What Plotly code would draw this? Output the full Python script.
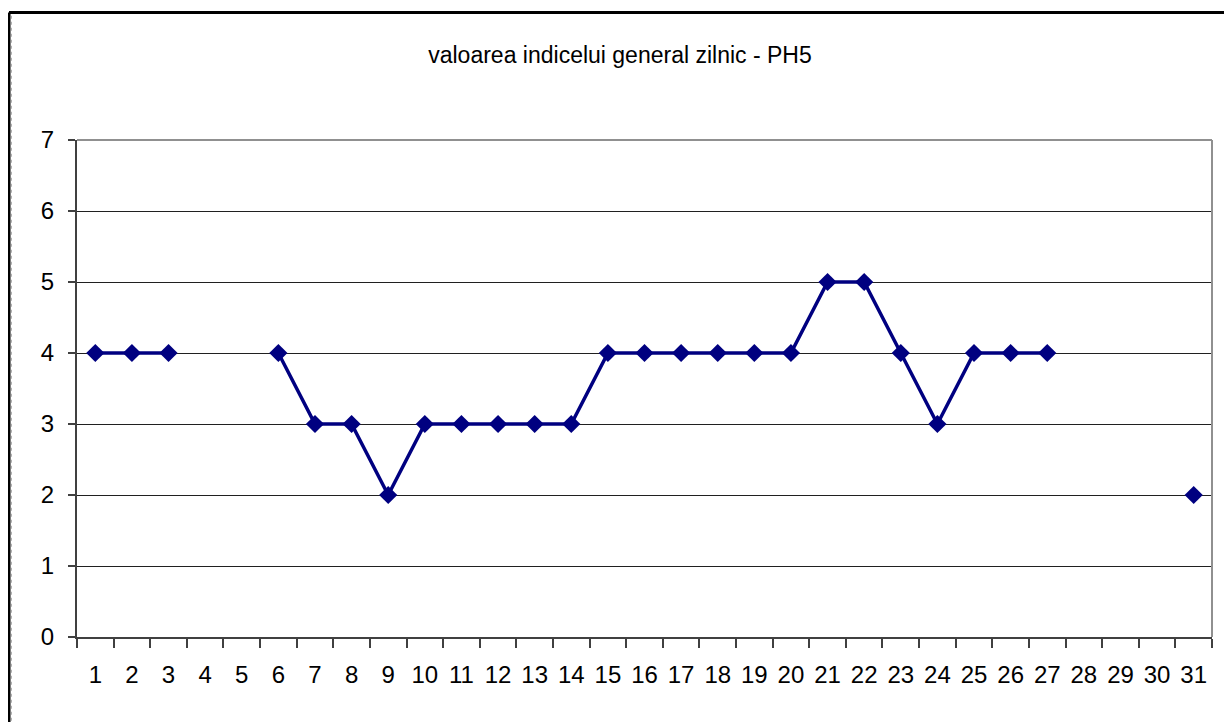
import plotly.graph_objects as go

days = [str(d) for d in range(1, 32)]
values = [4, 4, 4, None, None, 4, 3, 3, 2, 3, 3, 3, 3, 3, 4, 4, 4, 4, 4, 4,
          5, 5, 4, 3, 4, 4, 4, None, None, None, 2]
title = "valoarea indicelui general zilnic - PH5"

# page body has an 8px margin; figure sized to fill the remaining window
W, H = 1224, 714
L, T = 69, 132
R = W - (1212 - 8)
B = H - (637 - 8)

fig = go.Figure()
fig.add_trace(go.Scatter(
    x=days, y=values, mode="lines+markers",
    line=dict(color="#000080", width=3.5),
    marker=dict(symbol="diamond", size=14, color="#000080"),
    connectgaps=False, showlegend=False, cliponaxis=False,
))

fig.update_layout(
    width=W, height=H,
    margin=dict(l=L, r=R, t=T, b=B),
    paper_bgcolor="white", plot_bgcolor="white",
    font=dict(family="Liberation Sans, Arial, sans-serif", color="black"),
    title=dict(text=title, x=0.5, xanchor="center", y=1 - 47 / H, yanchor="middle",
               font=dict(size=23)),
    xaxis=dict(type="category", range=[-0.5, 30.5], tickson="boundaries",
               ticks="outside", ticklen=9, tickcolor="#404040", tickwidth=2,
               showline=True, linecolor="#404040", linewidth=2, tickangle=0,
               showgrid=False, tickfont=dict(size=24), ticklabelstandoff=15,
               fixedrange=True),
    yaxis=dict(range=[0, 7], dtick=1, ticks="outside", ticklen=7,
               tickcolor="#404040", tickwidth=2,
               showline=True, linecolor="#404040", linewidth=2,
               showgrid=True, gridcolor="#202020", gridwidth=1,
               zeroline=False, tickfont=dict(size=24), ticklabelstandoff=9,
               fixedrange=True),
    shapes=[
        # plot area right/top border
        dict(type="line", xref="paper", yref="paper", x0=1, x1=1, y0=0, y1=1,
             line=dict(color="#909090", width=2)),
        dict(type="line", xref="paper", yref="paper", x0=0, x1=1, y0=1, y1=1,
             line=dict(color="#909090", width=2)),
        # outer chart border (top and left)
        dict(type="line", xref="paper", yref="paper", x0=-0.0599, x1=1.03,
             y0=1.2566, y1=1.2566, line=dict(color="black", width=3)),
        dict(type="line", xref="paper", yref="paper", x0=-0.0599, x1=-0.0599,
             y0=1.2566, y1=-0.2, line=dict(color="black", width=3)),
        dict(type="line", xref="paper", yref="paper", x0=-0.0577, x1=-0.0577,
             y0=1.25, y1=-0.2, line=dict(color="#b0b0b0", width=1, dash="dot")),
    ],
)

fig.write_html("out.html")
